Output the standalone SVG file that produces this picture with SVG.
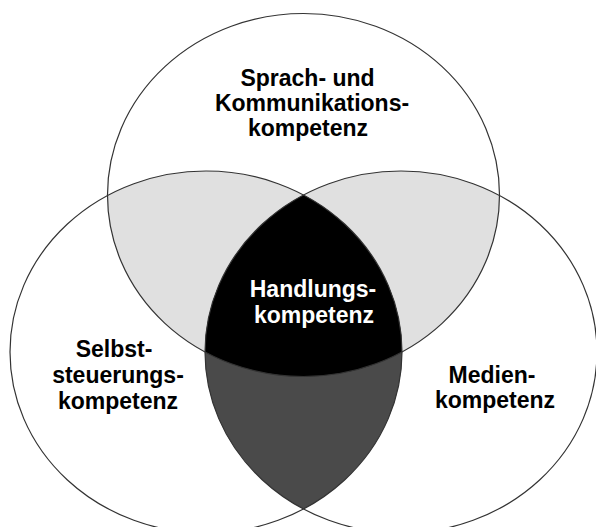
<svg xmlns="http://www.w3.org/2000/svg" width="596" height="527" viewBox="0 0 596 527">
<style>
.ring{fill:none;stroke:#333;stroke-width:1.2}
.lbl{font-family:"Liberation Sans",Arial,Helvetica,sans-serif;font-weight:bold;font-size:23px;fill:#000;text-anchor:middle}
.inv{fill:#fff}
.light{fill:#e0e0e0}
.dark{fill:#4a4a4a}
.core{fill:#000}
</style>
<defs>
<clipPath id="cT"><ellipse cx="303.5" cy="195" rx="196" ry="181.5"/></clipPath>
<clipPath id="cL"><ellipse cx="206" cy="352" rx="196" ry="181"/></clipPath>
<clipPath id="cR"><ellipse cx="401" cy="352" rx="196" ry="181"/></clipPath>
</defs>
<rect width="596" height="527" fill="#fff"/>
<g id="overlaps">
  <g clip-path="url(#cT)">
    <ellipse class="light" cx="206" cy="352" rx="196" ry="181"/>
    <ellipse class="light" cx="401" cy="352" rx="196" ry="181"/>
  </g>
  <g clip-path="url(#cL)">
    <ellipse class="dark" cx="401" cy="352" rx="196" ry="181"/>
  </g>
  <g clip-path="url(#cT)">
    <g clip-path="url(#cL)">
      <ellipse class="core" cx="401" cy="352" rx="196" ry="181"/>
    </g>
  </g>
</g>
<g id="connectors"></g>
<g id="node-sprach">
  <ellipse class="ring" cx="303.5" cy="195" rx="196" ry="181.5"/>
  <text class="lbl" x="307.5" y="85.5">Sprach- und</text>
  <text class="lbl" x="312" y="110.5">Kommunikations-</text>
  <text class="lbl" x="308" y="136">kompetenz</text>
</g>
<g id="node-selbst">
  <ellipse class="ring" cx="206" cy="352" rx="196" ry="181"/>
  <text class="lbl" x="114" y="357">Selbst-</text>
  <text class="lbl" x="118" y="383">steuerungs-</text>
  <text class="lbl" x="118" y="409">kompetenz</text>
</g>
<g id="node-medien">
  <ellipse class="ring" cx="401" cy="352" rx="196" ry="181"/>
  <text class="lbl" x="492" y="383">Medien-</text>
  <text class="lbl" x="495" y="408">kompetenz</text>
</g>
<g id="node-handlung">
  <text class="lbl inv" x="313" y="297">Handlungs-</text>
  <text class="lbl inv" x="314" y="323">kompetenz</text>
</g>
</svg>
